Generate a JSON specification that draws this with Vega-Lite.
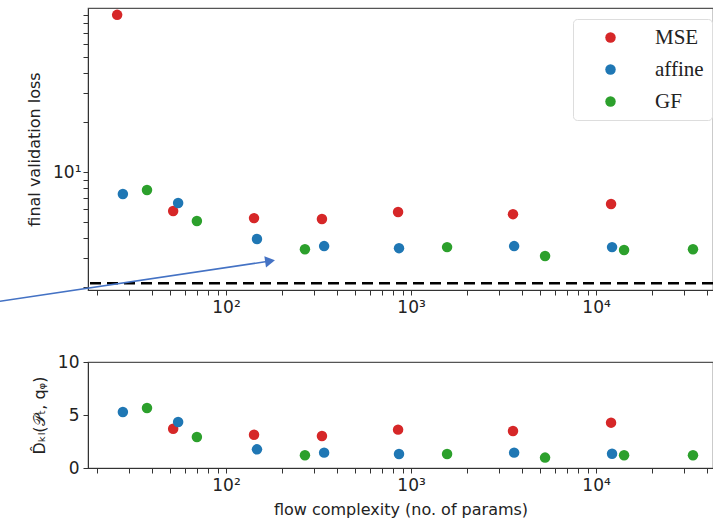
{
  "$schema": "https://vega.github.io/schema/vega-lite/v6.json",
  "padding": {"left": -4, "top": 4, "right": 0, "bottom": 5},
  "bounds": "flush",
  "spacing": 72,
  "config": {
    "font": "DejaVu Sans",
    "view": {"stroke": "#555", "strokeWidth": 1.2},
    "axis": {
      "domainColor": "#333", "tickColor": "#333", "tickSize": 5, "labelPadding": 4,
      "labelFontSize": 17, "labelColor": "#222", "titleFontSize": 16, "titleColor": "#222",
      "titleFontWeight": "normal", "grid": false, "labelFont": "DejaVu Sans", "titleFont": "DejaVu Sans",
      "labelOverlap": false, "labelFlush": false
    }
  },
  "datasets": {
    "loss": [
      {"params": 25.8, "method": "MSE", "loss": 89.6},
      {"params": 51.8, "method": "MSE", "loss": 5.81},
      {"params": 141.7, "method": "MSE", "loss": 5.26},
      {"params": 330, "method": "MSE", "loss": 5.19},
      {"params": 851, "method": "MSE", "loss": 5.73},
      {"params": 3556, "method": "MSE", "loss": 5.56},
      {"params": 12050, "method": "MSE", "loss": 6.40},
      {"params": 27.7, "method": "affine", "loss": 7.36},
      {"params": 55.1, "method": "affine", "loss": 6.49},
      {"params": 147, "method": "affine", "loss": 3.93},
      {"params": 339, "method": "affine", "loss": 3.56},
      {"params": 861, "method": "affine", "loss": 3.46},
      {"params": 3607, "method": "affine", "loss": 3.56},
      {"params": 12200, "method": "affine", "loss": 3.51},
      {"params": 37.4, "method": "GF", "loss": 7.78},
      {"params": 69.6, "method": "GF", "loss": 5.05},
      {"params": 267, "method": "GF", "loss": 3.41},
      {"params": 1566, "method": "GF", "loss": 3.51},
      {"params": 5300, "method": "GF", "loss": 3.10},
      {"params": 14170, "method": "GF", "loss": 3.37},
      {"params": 33400, "method": "GF", "loss": 3.41}
    ],
    "kl": [
      {"params": 51.8, "method": "MSE", "dkl": 3.71},
      {"params": 141.7, "method": "MSE", "dkl": 3.14},
      {"params": 330, "method": "MSE", "dkl": 3.02},
      {"params": 851, "method": "MSE", "dkl": 3.62},
      {"params": 3556, "method": "MSE", "dkl": 3.49},
      {"params": 12050, "method": "MSE", "dkl": 4.28},
      {"params": 27.7, "method": "affine", "dkl": 5.28},
      {"params": 55.1, "method": "affine", "dkl": 4.34},
      {"params": 147, "method": "affine", "dkl": 1.76},
      {"params": 339, "method": "affine", "dkl": 1.45},
      {"params": 861, "method": "affine", "dkl": 1.32},
      {"params": 3607, "method": "affine", "dkl": 1.45},
      {"params": 12200, "method": "affine", "dkl": 1.35},
      {"params": 37.4, "method": "GF", "dkl": 5.66},
      {"params": 69.6, "method": "GF", "dkl": 2.92},
      {"params": 267, "method": "GF", "dkl": 1.2},
      {"params": 1566, "method": "GF", "dkl": 1.32},
      {"params": 5300, "method": "GF", "dkl": 0.98},
      {"params": 14170, "method": "GF", "dkl": 1.2},
      {"params": 33400, "method": "GF", "dkl": 1.2}
    ],
    "baseline": [
      {"loss": 2.12}
    ],
    "arrow": [
      {"x": 6.0, "y": 1.65},
      {"x": 173, "y": 2.89}
    ],
    "arrowhead": [
      {"x": 173, "y": 2.89}
    ]
  },
  "resolve": {"scale": {"color": "independent"}, "legend": {"color": "independent"}},
  "vconcat": [
    {
      "width": 625,
      "height": 282,
      "layer": [
        {
          "data": {"name": "loss"},
          "mark": {"type": "circle", "size": 110, "opacity": 1},
          "encoding": {
            "x": {
              "field": "params", "type": "quantitative",
              "scale": {"type": "log", "domain": [17.95, 42850]},
              "axis": {
                "title": null,
                "values": [20,30,40,50,60,70,80,90,100,200,300,400,500,600,700,800,900,1000,2000,3000,4000,5000,6000,7000,8000,9000,10000,20000,30000,40000],
                "labelExpr": "datum.value == 100 ? '10²' : datum.value == 1000 ? '10³' : datum.value == 10000 ? '10⁴' : ''"
              }
            },
            "y": {
              "field": "loss", "type": "quantitative",
              "scale": {"type": "log", "domain": [1.93, 98.6]},
              "axis": {
                "title": "final validation loss", "titlePadding": 10, "labelPadding": 2,
                "values": [2,3,4,5,6,7,8,9,10,20,30,40,50,60,70,80,90],
                "labelExpr": "datum.value == 10 ? '10¹' : ''"
              }
            },
            "color": {
              "field": "method", "type": "nominal",
              "scale": {"domain": ["MSE", "affine", "GF"], "range": ["#d62728", "#1f77b4", "#2ca02c"]},
              "legend": {
                "orient": "none", "legendX": 485, "legendY": 11, "title": null,
                "labelFont": "Liberation Serif", "labelFontSize": 21, "labelColor": "#222",
                "symbolType": "circle", "symbolSize": 110, "symbolStrokeWidth": 0,
                "rowPadding": 10, "padding": 8, "symbolOffset": 19, "labelOffset": 34,
                "fillColor": "white", "strokeColor": "#ddd", "cornerRadius": 4
              }
            }
          }
        },
        {
          "data": {"name": "baseline"},
          "mark": {"type": "rule", "strokeDash": [11, 6], "strokeWidth": 2.5, "color": "black"},
          "encoding": {
            "y": {"field": "loss", "type": "quantitative", "scale": {"type": "log", "domain": [1.93, 98.6]}}
          }
        },
        {
          "data": {"name": "arrow"},
          "mark": {"type": "line", "color": "#4472C4", "strokeWidth": 1.6},
          "encoding": {
            "x": {"field": "x", "type": "quantitative", "scale": {"type": "log", "domain": [17.95, 42850]}},
            "y": {"field": "y", "type": "quantitative", "scale": {"type": "log", "domain": [1.93, 98.6]}}
          }
        },
        {
          "data": {"name": "arrowhead"},
          "mark": {"type": "point", "shape": "triangle-right", "filled": true, "size": 130, "angle": 351.6, "color": "#4472C4", "opacity": 1},
          "encoding": {
            "x": {"field": "x", "type": "quantitative", "scale": {"type": "log", "domain": [17.95, 42850]}},
            "y": {"field": "y", "type": "quantitative", "scale": {"type": "log", "domain": [1.93, 98.6]}}
          }
        }
      ]
    },
    {
      "width": 625,
      "height": 106,
      "data": {"name": "kl"},
      "mark": {"type": "circle", "size": 110, "opacity": 1},
      "encoding": {
        "x": {
          "field": "params", "type": "quantitative",
          "scale": {"type": "log", "domain": [17.95, 42850]},
          "axis": {
            "title": "flow complexity (no. of params)", "titlePadding": 8,
            "values": [20,30,40,50,60,70,80,90,100,200,300,400,500,600,700,800,900,1000,2000,3000,4000,5000,6000,7000,8000,9000,10000,20000,30000,40000],
            "labelExpr": "datum.value == 100 ? '10²' : datum.value == 1000 ? '10³' : datum.value == 10000 ? '10⁴' : ''"
          }
        },
        "y": {
          "field": "dkl", "type": "quantitative",
          "scale": {"domain": [0, 10]},
          "axis": {"title": "D̂ₖₗ(𝒫ₜ, qᵩ)", "titlePadding": 10, "values": [0, 5, 10]}
        },
        "color": {
          "field": "method", "type": "nominal",
          "scale": {"domain": ["MSE", "affine", "GF"], "range": ["#d62728", "#1f77b4", "#2ca02c"]},
          "legend": null
        }
      }
    }
  ]
}
